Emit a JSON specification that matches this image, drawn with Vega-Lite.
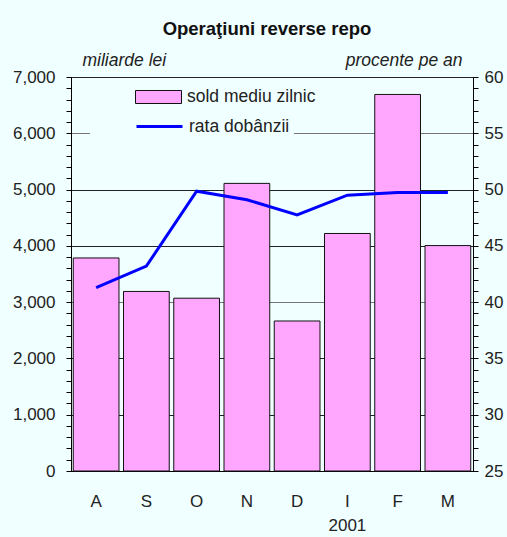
{
  "$schema": "https://vega.github.io/schema/vega-lite/v6.json",
  "width": 402,
  "height": 394,
  "autosize": {"type": "none"},
  "padding": {"left": 71, "top": 77, "right": 34, "bottom": 66},
  "background": "#F0FFFF",
  "config": {
    "font": "Liberation Sans",
    "view": {"stroke": "#000", "strokeWidth": 1}
  },
  "title": {"text": "Operaţiuni reverse repo", "fontSize": 18.5, "fontWeight": "bold", "color": "#111", "dx": -5, "offset": 13},
  "data": {
    "values": [
      {"luna": "A", "sold": 3785, "rata": 41.3},
      {"luna": "S", "sold": 3190, "rata": 43.2},
      {"luna": "O", "sold": 3070, "rata": 49.85},
      {"luna": "N", "sold": 5110, "rata": 49.1},
      {"luna": "D", "sold": 2665, "rata": 47.75},
      {"luna": "I", "sold": 4220, "rata": 49.5},
      {"luna": "F", "sold": 6690, "rata": 49.75},
      {"luna": "M", "sold": 4005, "rata": 49.75}
    ]
  },
  "encoding": {
    "x": {
      "field": "luna", "type": "nominal", "sort": null,
      "scale": {"paddingInner": 0.09, "paddingOuter": 0.045},
      "axis": {
        "title": null, "labelAngle": 0, "ticks": false, "labelPadding": 22,
        "labelFontSize": 17, "labelColor": "#222", "domainColor": "#000",
        "labelExpr": "datum.value == 'I' ? ['I', '2001'] : datum.label",
        "labelLineHeight": 24
      }
    }
  },
  "layer": [
    {
      "mark": {"type": "bar", "stroke": "#111", "strokeWidth": 1},
      "encoding": {
        "y": {
          "field": "sold", "type": "quantitative",
          "scale": {"domain": [0, 7000], "nice": false},
          "axis": {
            "orient": "left",
            "values": [0,200,400,600,800,1000,1200,1400,1600,1800,2000,2200,2400,2600,2800,3000,3200,3400,3600,3800,4000,4200,4400,4600,4800,5000,5200,5400,5600,5800,6000,6200,6400,6600,6800,7000],
            "labelExpr": "datum.value % 1000 === 0 ? format(datum.value, ',') : ''",
            "labelOverlap": false,
            "labelFontSize": 17, "labelColor": "#222", "labelPadding": 11,
            "tickSize": 5, "tickColor": "#000", "domainColor": "#000",
            "grid": true,
            "gridOpacity": {"condition": {"test": "datum.value % 1000 === 0", "value": 1}, "value": 0},
            "gridColor": {"condition": {"test": "datum.value === 3000 || datum.value === 6000", "value": "#777"}, "value": "#222"},
            "title": "miliarde lei", "titleAngle": 0, "titleAlign": "left", "titleBaseline": "middle",
            "titleX": 11, "titleY": -17, "titleFontSize": 17.5, "titleFontStyle": "italic",
            "titleFontWeight": "normal", "titleColor": "#222"
          }
        },
        "fill": {
          "datum": "sold mediu zilnic", "type": "nominal",
          "scale": {"range": ["#FFA6FF"]},
          "legend": {
            "title": null, "orient": "none", "legendX": 64, "legendY": -3.5,
            "symbolType": "M-1,-0.283H1V0.283H-1Z", "symbolSize": 2116,
            "symbolStrokeColor": "#111", "symbolStrokeWidth": 1,
            "labelFontSize": 17.5, "labelColor": "#222", "labelOffset": 5,
            "padding": 0, "zindex": 2
          }
        }
      }
    },
    {
      "mark": {"type": "line", "strokeWidth": 3},
      "encoding": {
        "y": {
          "field": "rata", "type": "quantitative",
          "scale": {"domain": [25, 60], "nice": false},
          "axis": {
            "orient": "right",
            "values": [25,26,27,28,29,30,31,32,33,34,35,36,37,38,39,40,41,42,43,44,45,46,47,48,49,50,51,52,53,54,55,56,57,58,59,60],
            "labelExpr": "datum.value % 5 === 0 ? datum.label : ''",
            "labelOverlap": false,
            "labelFontSize": 17, "labelColor": "#222", "labelPadding": 6,
            "tickSize": 5, "tickColor": "#000", "domainColor": "#000",
            "grid": false,
            "title": "procente pe an", "titleAngle": 0, "titleAlign": "right", "titleBaseline": "middle",
            "titleX": -11, "titleY": -17, "titleFontSize": 17.5, "titleFontStyle": "italic",
            "titleFontWeight": "normal", "titleColor": "#222"
          }
        },
        "stroke": {
          "datum": "rata dobânzii", "type": "nominal",
          "scale": {"range": ["#0000FF"]},
          "legend": {
            "title": null, "orient": "none", "legendX": 19, "legendY": 21,
            "symbolType": "stroke", "symbolSize": 2116, "symbolStrokeWidth": 3,
            "labelFontSize": 17.5, "labelColor": "#222",
            "labelExpr": "pad(datum.label, 27, '\u00a0')",
            "symbolOffset": 41, "labelOffset": 5,
            "padding": 4, "fillColor": "#F0FFFF", "zindex": 1
          }
        }
      }
    }
  ],
  "resolve": {"scale": {"y": "independent"}}
}
